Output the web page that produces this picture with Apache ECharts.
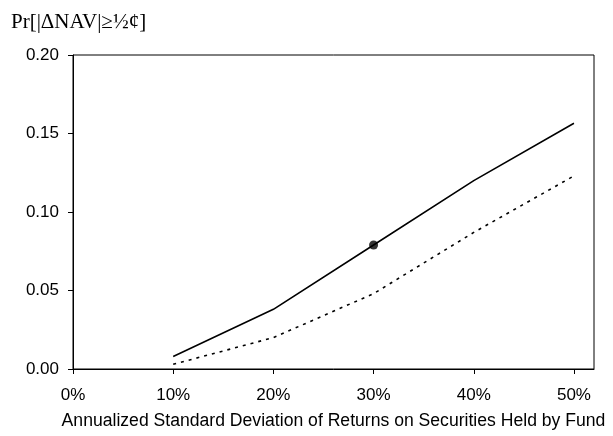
<!DOCTYPE html>
<html><head><meta charset="utf-8">
<script src="https://cdn.jsdelivr.net/npm/echarts@6/dist/echarts.min.js"></script>
<style>html,body{margin:0;padding:0;background:#fff}#c{width:613px;height:436px}</style>
</head><body><div id="c"></div>
<script>
var sigma = [0.10, 0.20, 0.30, 0.40, 0.50];
var solidVals = [0.008, 0.038, 0.079, 0.120, 0.1565];
var dottedVals = [0.003, 0.020, 0.048, 0.087, 0.123];
var highlight = [[0.30, 0.079]];
var xTicks = [0, 0.1, 0.2, 0.3, 0.4, 0.5];

function pairs(xs, ys){ return xs.map(function(x,i){return [x, ys[i]];}); }

var chart = echarts.init(document.getElementById('c'));
chart.setOption({
  animation: false,
  backgroundColor: '#fff',
  title: {
    text: 'Pr[|ΔNAV|≥½¢]', left: 6, top: 7,
    textStyle: {fontFamily: 'Liberation Serif', fontSize: 21, fontWeight: 'normal', color: '#000'}
  },
  grid: {left: 73, top: 55, right: 19, bottom: 67, outerBoundsMode: 'none', containLabel: false,
    show: true, borderColor: '#000', borderWidth: 1, backgroundColor: 'transparent'},
  xAxis: {
    type: 'value', min: 0, max: 0.52,
    name: 'Annualized Standard Deviation of Returns on Securities Held by Fund',
    nameLocation: 'middle', nameGap: 43,
    nameTextStyle: {fontFamily: 'Liberation Sans', fontSize: 17.6, color: '#000'},
    axisLine: {show: true, lineStyle: {color: '#000', width: 1}},
    axisTick: {show: true, length: 5, inside: false, lineStyle: {color: '#000'}, customValues: xTicks},
    axisLabel: {margin: 18, fontFamily: 'Liberation Sans', fontSize: 17, color: '#000', customValues: xTicks,
      formatter: function(v){ return Math.round(v*100) + '%'; }},
    splitLine: {show: false}
  },
  yAxis: {
    type: 'value', min: 0, max: 0.20, interval: 0.05,
    axisLine: {show: true, lineStyle: {color: '#000', width: 1}},
    axisTick: {show: true, length: 5, inside: false, lineStyle: {color: '#000'}},
    axisLabel: {margin: 14, fontFamily: 'Liberation Sans', fontSize: 17, color: '#000',
      formatter: function(v){ return v.toFixed(2); }},
    splitLine: {show: false}
  },
  series: [
    {type: 'line', data: pairs(sigma, solidVals), showSymbol: false, symbol: 'none',
     lineStyle: {color: '#000', width: 1.6}},
    {type: 'line', data: pairs(sigma, dottedVals), showSymbol: false, symbol: 'none',
     lineStyle: {color: '#000', width: 1.6, type: [3, 5]}},
    {type: 'scatter', data: highlight, symbol: 'circle', symbolSize: 9,
     itemStyle: {color: '#000'}}
  ]
});
</script></body></html>
